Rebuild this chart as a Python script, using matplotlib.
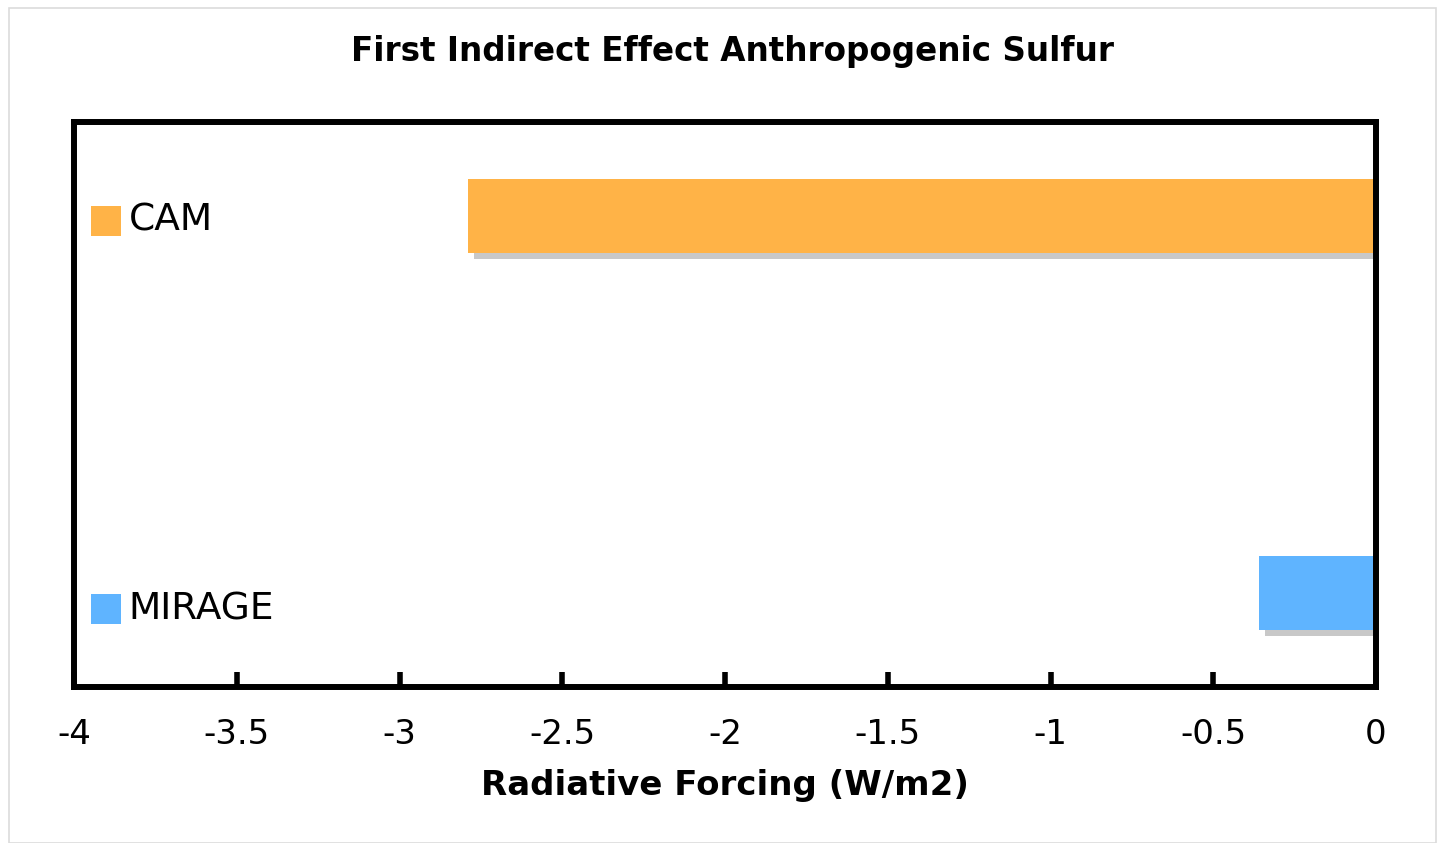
import matplotlib
matplotlib.use("Agg")
import matplotlib.pyplot as plt
from matplotlib.patches import Rectangle
import matplotlib.transforms as mtransforms

categories = ["MIRAGE", "CAM"]
values = [-0.36, -2.79]
colors = ["#5fb4ff", "#ffb347"]
xticks = [-4, -3.5, -3, -2.5, -2, -1.5, -1, -0.5, 0]
xticklabels = ["-4", "-3.5", "-3", "-2.5", "-2", "-1.5", "-1", "-0.5", "0"]

plt.rcParams['font.family'] = ['DejaVu Sans']
plt.rcParams['axes.unicode_minus'] = False

fig = plt.figure(figsize=(14.38, 8.43), dpi=100)
W, H = 1438, 843
# light figure border
fig.patches.append(Rectangle((9 / W, 0), (1436 - 9) / W, (843 - 8) / H, transform=fig.transFigure,
                             fill=False, edgecolor="#dcdcdc", linewidth=1.2))

ax = fig.add_axes([74 / W, 1 - 687 / H, (1376 - 74) / W, (687 - 122) / H])

ypos = list(range(len(categories)))
bar_h = 0.195
# shadows (offset in pixels)
shadow_off = mtransforms.offset_copy(ax.transData, fig=fig, x=6 / 100 * 72, y=-6 / 100 * 72, units='points')
for y, v in zip(ypos, values):
    ax.add_patch(Rectangle((v, y - bar_h / 2), -v, bar_h, transform=shadow_off,
                           facecolor="#c8c8c8", edgecolor="none", zorder=1, clip_on=True))
ax.barh(ypos, values, height=bar_h, color=colors, zorder=2)

ax.set_xlim(-4, 0)
ax.set_ylim(-0.25, 1.25)
ax.set_xticks(xticks)
ax.set_xticklabels(xticklabels, fontsize=24.5)
ax.set_yticks([])
ax.tick_params(axis='x', direction='in', length=11, width=4, pad=22)
for s in ax.spines.values():
    s.set_linewidth(4.3)
    s.set_color("black")

# category labels with color squares inside axes (legend-style)
label_y = [0.138, 0.825]
for yy, cat, c in zip(label_y, categories, colors):
    ax.plot([0.0245], [yy], marker='s', markersize=21, color=c, transform=ax.transAxes,
            clip_on=False, zorder=3, markeredgewidth=0)
    ax.text(0.042, yy, cat, transform=ax.transAxes, fontsize=27, va='center', ha='left', zorder=3)

ax.set_xlabel("Radiative Forcing (W/m2)", fontsize=24.5, fontweight='bold', labelpad=13)
fig.text(732 / W, 1 - 52 / H, "First Indirect Effect Anthropogenic Sulfur", fontsize=23.5,
         fontweight='bold', ha='center', va='center')

fig.savefig("out.png", dpi=100)
